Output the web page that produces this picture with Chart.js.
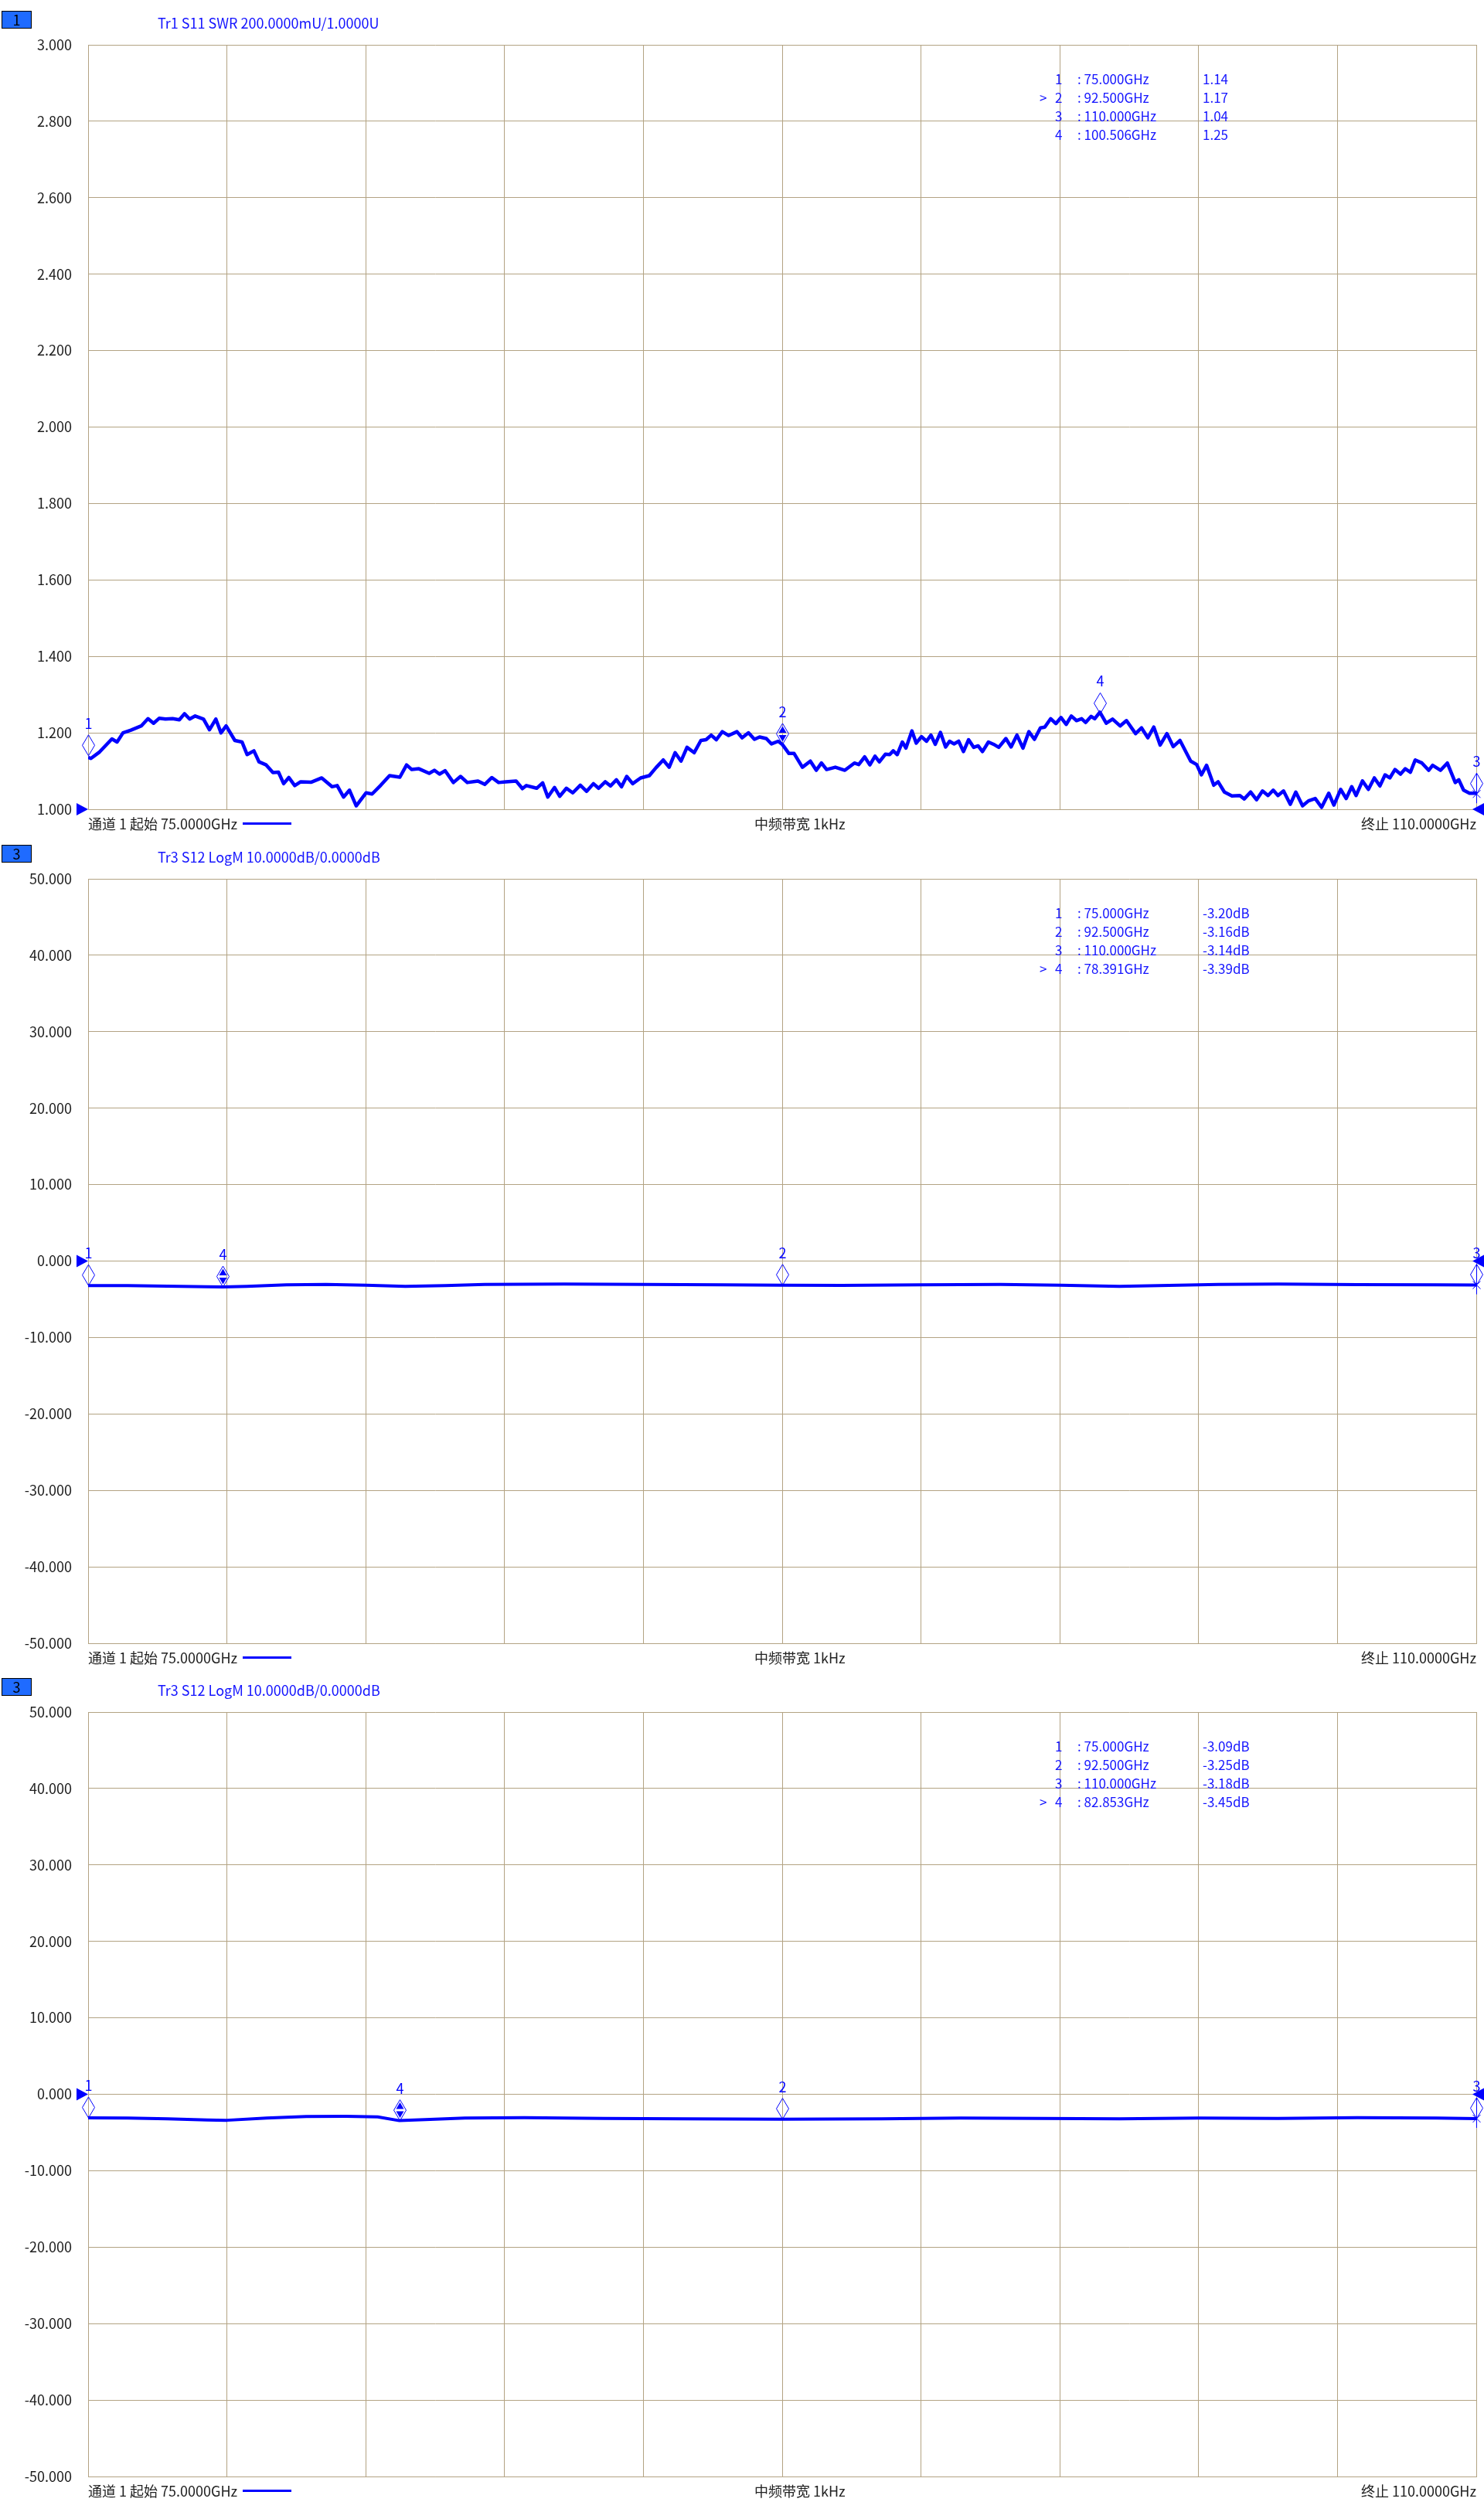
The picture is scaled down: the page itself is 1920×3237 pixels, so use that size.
<!DOCTYPE html>
<html lang="zh-CN">
<head>
    <meta charset="UTF-8">
    <title>Tr1 S11 SWR / Tr3 S12 LogM</title>
    <script src="https://cdn.jsdelivr.net/npm/chart.js"></script>
    <style>
        html, body {
            margin: 0;
            padding: 0;
            background: #ffffff;
        }
        body {
            width: 1920px;
            height: 3237px;
            position: relative;
            overflow: hidden;
            font-family: 'Noto Sans CJK SC', 'Noto Sans', sans-serif;
        }
        .panel {
            position: absolute;
            left: 0;
            width: 1920px;
            height: 1079px;
        }
        .panel canvas {
            position: absolute;
            left: 0;
            top: 0;
        }
        .chan-box {
            position: absolute;
            left: 2px;
            top: 14px;
            width: 39px;
            height: 23px;
            box-sizing: border-box;
            border: 1px solid #000;
            background: #1f6bff;
            color: #000;
            font-size: 18px;
            line-height: 21px;
            text-align: center;
        }
        .trace-title {
            position: absolute;
            left: 204px;
            top: 17px;
            font-size: 18px;
            line-height: 24px;
            color: #1414ff;
            white-space: nowrap;
        }
        .mk {
            position: absolute;
            font-size: 17px;
            line-height: 24px;
            color: #1414ff;
            white-space: nowrap;
        }
        .foot {
            position: absolute;
            top: 1053px;
            font-size: 18px;
            line-height: 24px;
            color: #222;
            white-space: nowrap;
        }
        .foot-l { left: 114px; }
        .foot-c { left: 976px; }
        .foot-r { right: 10px; }
        .foot-line {
            position: absolute;
            left: 314px;
            top: 1064px;
            width: 63px;
            height: 3px;
            background: #0000ff;
        }
    </style>
</head>
<body>

<script>
    // x 网格 (GHz) 与 y 刻度
    const freqGrid = [75, 78.5, 82, 85.5, 89, 92.5, 96, 99.5, 103, 106.5, 110];
    const swrTicks = [1.0, 1.2, 1.4, 1.6, 1.8, 2.0, 2.2, 2.4, 2.6, 2.8, 3.0];
    const dbTicks = [-50, -40, -30, -20, -10, 0, 10, 20, 30, 40, 50];

    // Tr1 S11 SWR
    const swrFreq = [
        75.00, 75.07, 75.29, 75.60, 75.73, 75.88, 76.08, 76.34, 76.51, 76.65, 76.79, 76.95, 77.13, 77.30, 77.43, 77.56, 77.70, 77.91, 78.06, 78.22, 78.35, 78.48, 78.70, 78.88, 79.01, 79.18, 79.31, 79.49, 79.66, 79.80, 79.93, 80.06, 80.21, 80.36, 80.63, 80.89, 81.15, 81.28, 81.44, 81.59, 81.76, 82.01, 82.16, 82.38, 82.60, 82.86, 83.03, 83.16, 83.34, 83.60, 83.73, 83.86, 84.00, 84.21, 84.39, 84.56, 84.83, 85.00, 85.18, 85.35, 85.53, 85.79, 85.95, 86.05, 86.31,
        86.46, 86.59, 86.76, 86.89, 87.06, 87.22, 87.41, 87.57, 87.74, 87.87, 88.04, 88.17, 88.32, 88.45, 88.58, 88.73, 88.93, 89.15, 89.32, 89.50, 89.65, 89.80, 89.95, 90.10, 90.28, 90.45, 90.58, 90.71, 90.84, 90.99, 91.15, 91.36, 91.49, 91.65, 91.80, 91.93, 92.10, 92.23, 92.40, 92.50, 92.67, 92.80, 93.01, 93.21, 93.36, 93.49, 93.62, 93.84, 94.08, 94.32, 94.43, 94.58, 94.71, 94.84, 94.95, 95.10, 95.21, 95.30, 95.40, 95.53, 95.62, 95.77, 95.88, 96.01, 96.14, 96.25, 96.36, 96.49, 96.62, 96.72, 96.83, 96.95, 97.07, 97.20, 97.33, 97.44, 97.55, 97.70, 97.83, 97.96, 98.14, 98.27, 98.42, 98.57, 98.72, 98.86, 99.01, 99.12, 99.27, 99.40, 99.53, 99.66, 99.79, 99.92, 100.05,
        100.15, 100.29, 100.38, 100.51, 100.67, 100.83, 101.02, 101.18, 101.41, 101.56, 101.72, 101.87, 102.03, 102.20, 102.36, 102.53, 102.80, 102.95, 103.07, 103.20, 103.38, 103.49, 103.65, 103.84, 104.04, 104.15, 104.31, 104.46, 104.61, 104.75, 104.88, 105.00, 105.14, 105.31, 105.45, 105.62, 105.77, 105.94, 106.10, 106.28, 106.41, 106.58, 106.72, 106.86, 106.97, 107.13, 107.28, 107.43, 107.57, 107.70, 107.82, 107.95, 108.09, 108.21, 108.34, 108.46, 108.63, 108.80, 108.90, 109.10, 109.27, 109.47, 109.56, 109.68, 109.83, 110.00
    ];
    const swrVal = [
        1.136, 1.133, 1.150, 1.184, 1.176, 1.200, 1.207, 1.218, 1.237, 1.225, 1.238, 1.236, 1.237, 1.234, 1.250, 1.236, 1.244, 1.236, 1.208, 1.236, 1.200, 1.218, 1.180, 1.176, 1.143, 1.153, 1.124, 1.116, 1.096, 1.097, 1.067, 1.083, 1.062, 1.072, 1.071, 1.082, 1.059, 1.062, 1.032, 1.050, 1.009, 1.043, 1.040, 1.063, 1.088, 1.084, 1.116, 1.104, 1.106, 1.094, 1.102, 1.092, 1.101, 1.070, 1.086, 1.070, 1.074, 1.065, 1.083, 1.070, 1.072, 1.074, 1.054, 1.062, 1.055,
        1.069, 1.032, 1.057, 1.034, 1.055, 1.043, 1.063, 1.047, 1.067, 1.055, 1.072, 1.061, 1.077, 1.059, 1.086, 1.067, 1.082, 1.088, 1.109, 1.129, 1.110, 1.148, 1.126, 1.162, 1.148, 1.180, 1.182, 1.194, 1.182, 1.203, 1.193, 1.203, 1.187, 1.200, 1.183, 1.189, 1.185, 1.171, 1.178, 1.170, 1.146, 1.146, 1.110, 1.126, 1.102, 1.121, 1.104, 1.110, 1.102, 1.121, 1.117, 1.137, 1.116, 1.139, 1.124, 1.144, 1.143, 1.153, 1.143, 1.176, 1.160, 1.205, 1.173, 1.190, 1.178, 1.194, 1.170, 1.201, 1.163, 1.178, 1.171, 1.178, 1.151, 1.182, 1.162, 1.166, 1.151, 1.176, 1.170, 1.162, 1.185, 1.163, 1.194, 1.160, 1.203, 1.183, 1.213, 1.215, 1.237, 1.224, 1.240, 1.222, 1.244, 1.232, 1.237,
        1.227, 1.243, 1.237, 1.254, 1.225, 1.236, 1.218, 1.232, 1.198, 1.213, 1.187, 1.215, 1.168, 1.198, 1.164, 1.180, 1.126, 1.117, 1.090, 1.115, 1.063, 1.072, 1.045, 1.035, 1.036, 1.027, 1.045, 1.025, 1.048, 1.036, 1.050, 1.036, 1.048, 1.013, 1.045, 1.009, 1.022, 1.028, 1.005, 1.042, 1.011, 1.052, 1.028, 1.059, 1.036, 1.074, 1.052, 1.082, 1.061, 1.090, 1.082, 1.104, 1.092, 1.106, 1.097, 1.129, 1.121, 1.102, 1.115, 1.102, 1.121, 1.070, 1.077, 1.050, 1.042, 1.042
    ];

    // Tr3 S12 LogM (中间一屏)
    const s12aFreq = [75, 76, 77, 78, 78.4, 79, 80, 81, 82, 83, 84, 85, 87, 89, 91, 92.5, 94, 96, 98, 99.5, 101, 102, 103.5, 105, 107, 109, 110];
    const s12aVal = [-3.20, -3.22, -3.28, -3.36, -3.39, -3.30, -3.12, -3.05, -3.15, -3.30, -3.20, -3.05, -3.00, -3.05, -3.12, -3.16, -3.18, -3.10, -3.05, -3.15, -3.30, -3.20, -3.05, -3.00, -3.08, -3.12, -3.14];

    // Tr3 S12 LogM (下面一屏)
    const s12bFreq = [75, 76, 77, 78, 78.5, 79.5, 80.5, 81.5, 82.3, 82.85, 83.5, 84.5, 86, 88, 90, 92.5, 95, 97, 99, 101, 103, 105, 107, 109, 110];
    const s12bVal = [-3.09, -3.12, -3.20, -3.35, -3.40, -3.10, -2.90, -2.88, -2.95, -3.45, -3.30, -3.10, -3.05, -3.15, -3.22, -3.25, -3.20, -3.12, -3.15, -3.20, -3.10, -3.15, -3.05, -3.10, -3.18];

    // 标记 1..4
    const swrMkFreq = [75.000, 92.500, 110.000, 100.506];
    const swrMkVal = [1.14, 1.17, 1.04, 1.25];
    const s12aMkFreq = [75.000, 92.500, 110.000, 78.391];
    const s12aMkVal = [-3.20, -3.16, -3.14, -3.39];
    const s12bMkFreq = [75.000, 92.500, 110.000, 82.853];
    const s12bMkVal = [-3.09, -3.25, -3.18, -3.45];

    const GRID = '#b3a383';
    const BLUE = '#0000ff';
    const FONT = "'Noto Sans CJK SC', 'Noto Sans', sans-serif";

    function markerPlugin(p) {
        return {
            id: 'vnaMarkers',
            afterDatasetsDraw(chart) {
                const { ctx, chartArea: a, scales: { x, y } } = chart;
                ctx.save();
                ctx.fillStyle = BLUE;
                ctx.strokeStyle = BLUE;

                // 参考位置三角
                const ry = y.getPixelForValue(p.ref);
                ctx.beginPath();
                ctx.moveTo(a.left, ry);
                ctx.lineTo(a.left - 15, ry - 8);
                ctx.lineTo(a.left - 15, ry + 8);
                ctx.closePath();
                ctx.fill();
                ctx.beginPath();
                ctx.moveTo(a.right - 5, ry);
                ctx.lineTo(a.right + 10, ry - 8);
                ctx.lineTo(a.right + 10, ry + 8);
                ctx.closePath();
                ctx.fill();

                ctx.lineWidth = 1;
                ctx.font = '18px ' + FONT;
                ctx.textAlign = 'center';
                ctx.textBaseline = 'alphabetic';
                p.mkFreq.forEach((f, i) => {
                    const px = Math.round(x.getPixelForValue(f)) + 0.5;
                    const py = y.getPixelForValue(p.mkVal[i]);
                    const cy = py - 13.5;
                    ctx.beginPath();
                    ctx.moveTo(px, cy - 13.5);
                    ctx.lineTo(px + 8, cy);
                    ctx.lineTo(px, cy + 13.5);
                    ctx.lineTo(px - 8, cy);
                    ctx.closePath();
                    ctx.stroke();
                    if (i === p.active) {
                        ctx.beginPath();
                        ctx.moveTo(px, cy - 10);
                        ctx.lineTo(px + 5, cy - 1.5);
                        ctx.lineTo(px - 5, cy - 1.5);
                        ctx.closePath();
                        ctx.moveTo(px, cy + 10);
                        ctx.lineTo(px + 5, cy + 1.5);
                        ctx.lineTo(px - 5, cy + 1.5);
                        ctx.closePath();
                        ctx.fill();
                    }
                    if (i === 2) {
                        ctx.beginPath();
                        ctx.moveTo(px, cy - 13.5);
                        ctx.lineTo(px, py + 12);
                        ctx.moveTo(px - 5, py + 5);
                        ctx.lineTo(px + 5, py - 5);
                        ctx.moveTo(px - 5, py - 5);
                        ctx.lineTo(px + 5, py + 5);
                        ctx.stroke();
                    }
                    ctx.fillText(String(i + 1), px, cy - 21.5);
                });
                ctx.restore();
            }
        };
    }

    function makePanel(p) {
        const wrap = document.createElement('div');
        wrap.className = 'panel';
        wrap.style.top = p.top + 'px';
        let rows = '';
        p.mkFreq.forEach((f, i) => {
            const t = 90 + i * 24;
            if (i === p.active) rows += `<div class="mk" style="left:1345px;top:${t}px">&gt;</div>`;
            rows += `<div class="mk" style="left:1365px;top:${t}px">${i + 1}</div>`;
            rows += `<div class="mk" style="left:1394px;top:${t}px">: ${f.toFixed(3)}GHz</div>`;
            rows += `<div class="mk" style="left:1556px;top:${t}px">${p.mkVal[i].toFixed(2)}${p.unit}</div>`;
        });
        wrap.innerHTML = `
            <canvas width="1920" height="1079"></canvas>
            <div class="chan-box">${p.box}</div>
            <div class="trace-title">${p.title}</div>
            ${rows}
            <div class="foot foot-l">通道 1 起始 75.0000GHz</div>
            <div class="foot-line"></div>
            <div class="foot foot-c">中频带宽 1kHz</div>
            <div class="foot foot-r">终止 110.0000GHz</div>`;
        document.body.appendChild(wrap);

        new Chart(wrap.querySelector('canvas'), {
            type: 'line',
            data: {
                datasets: [{
                    data: p.freq.map((f, i) => ({ x: f, y: p.vals[i] })),
                    borderColor: BLUE,
                    borderWidth: p.lineWidth,
                    borderJoinStyle: 'round',
                    pointRadius: 0,
                    tension: 0
                }]
            },
            options: {
                responsive: false,
                animation: false,
                devicePixelRatio: 1,
                layout: { padding: { top: 58, bottom: 32, left: 0, right: 10 } },
                plugins: {
                    legend: { display: false },
                    tooltip: { enabled: false }
                },
                scales: {
                    x: {
                        type: 'linear',
                        min: 75,
                        max: 110,
                        afterBuildTicks: s => { s.ticks = freqGrid.map(v => ({ value: v })); },
                        afterFit: s => { s.height = 0; },
                        ticks: { display: false },
                        grid: { color: GRID, lineWidth: 1, drawTicks: false },
                        border: { color: GRID }
                    },
                    y: {
                        type: 'linear',
                        min: p.ticks[0],
                        max: p.ticks[p.ticks.length - 1],
                        afterBuildTicks: s => { s.ticks = p.ticks.map(v => ({ value: v })); },
                        afterFit: s => { s.width = 114; },
                        ticks: {
                            padding: 21,
                            autoSkip: false,
                            color: '#1e1e1e',
                            font: { size: 18, family: FONT },
                            callback: v => v.toFixed(3)
                        },
                        grid: { color: GRID, lineWidth: 1, drawTicks: false },
                        border: { color: GRID }
                    }
                }
            },
            plugins: [markerPlugin(p)]
        });
    }

    makePanel({
        top: 0, box: '1', title: 'Tr1 S11 SWR 200.0000mU/1.0000U', unit: '',
        freq: swrFreq, vals: swrVal, ticks: swrTicks, ref: 1, lineWidth: 4.5,
        mkFreq: swrMkFreq, mkVal: swrMkVal, active: 1
    });
    makePanel({
        top: 1079, box: '3', title: 'Tr3 S12 LogM 10.0000dB/0.0000dB', unit: 'dB',
        freq: s12aFreq, vals: s12aVal, ticks: dbTicks, ref: 0, lineWidth: 4,
        mkFreq: s12aMkFreq, mkVal: s12aMkVal, active: 3
    });
    makePanel({
        top: 2157, box: '3', title: 'Tr3 S12 LogM 10.0000dB/0.0000dB', unit: 'dB',
        freq: s12bFreq, vals: s12bVal, ticks: dbTicks, ref: 0, lineWidth: 4,
        mkFreq: s12bMkFreq, mkVal: s12bMkVal, active: 3
    });
</script>
</body>
</html>
